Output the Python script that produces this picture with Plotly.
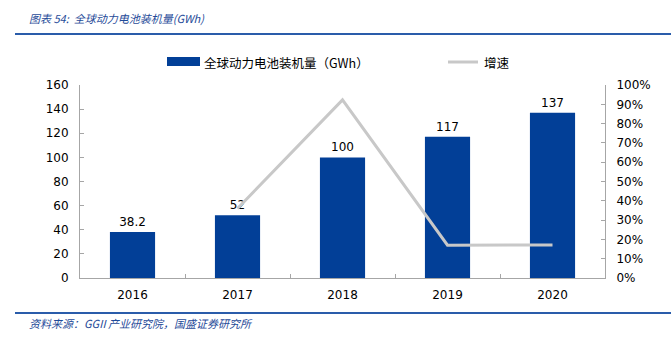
import plotly.graph_objects as go

years = ["2016", "2017", "2018", "2019", "2020"]
capacity = [38.2, 52, 100, 117, 137]
growth_years = ["2017", "2018", "2019", "2020"]
growth = [0.36, 0.923, 0.17, 0.171]
bar_labels = ["38.2", "52", "100", "117", "137"]

W, H = 671, 340
ML, MR, MT, MB = 80, 66, 85, 62
PW, PH = W - ML - MR, H - MT - MB

def px(x):
    return (x - ML) / PW

def py(y):
    return (H - MB - y) / PH

BAR = "#023f97"
LINE = "#c8c8c8"
AX = "#a6a6a6"
BLUE_T = "#1f4b99"
CJK = "Noto Sans CJK SC"
NUMF = "DejaVu Sans"

fig = go.Figure()
fig.add_trace(go.Bar(
    x=years, y=capacity, marker=dict(color=BAR, line=dict(width=0)),
    width=0.43, text=bar_labels, textposition="outside",
    textfont=dict(family=NUMF, size=12, color="#000000"),
    cliponaxis=False, showlegend=False, yaxis="y"))
fig.add_trace(go.Scatter(
    x=growth_years, y=growth, mode="lines",
    line=dict(color=LINE, width=3), showlegend=False, yaxis="y2"))

shapes = [
    dict(type="line", xref="paper", yref="paper", x0=px(15), x1=px(671), y0=py(34), y1=py(34),
         line=dict(color="#2a5caa", width=2)),
    dict(type="line", xref="paper", yref="paper", x0=px(15), x1=px(671), y0=py(313), y1=py(313),
         line=dict(color="#2a5caa", width=2)),
    dict(type="rect", xref="paper", yref="paper", x0=px(167), x1=px(200), y0=py(66), y1=py(57),
         fillcolor=BAR, line=dict(width=0)),
    dict(type="line", xref="paper", yref="paper", x0=px(448), x1=px(478), y0=py(62), y1=py(62),
         line=dict(color=LINE, width=3)),
]

annotations = [
    dict(text="<i>图表 54:  全球动力电池装机量(GWh)</i>", xref="paper", yref="paper",
         x=px(27), y=py(18), xanchor="left", yanchor="middle", showarrow=False,
         font=dict(family=CJK, size=11, color=BLUE_T)),
    dict(text="<i>资料来源：GGII 产业研究院，国盛证券研究所</i>", xref="paper", yref="paper",
         x=px(27), y=py(323), xanchor="left", yanchor="middle", showarrow=False,
         font=dict(family=CJK, size=11, color=BLUE_T)),
    dict(text="全球动力电池装机量（GWh）", xref="paper", yref="paper",
         x=px(202), y=py(62), xanchor="left", yanchor="middle", showarrow=False,
         font=dict(family=CJK, size=12.5, color="#000000")),
    dict(text="增速", xref="paper", yref="paper",
         x=px(482), y=py(62), xanchor="left", yanchor="middle", showarrow=False,
         font=dict(family=CJK, size=12.5, color="#000000")),
]

fig.update_layout(
    width=W, height=H,
    margin=dict(l=ML, r=MR, t=MT, b=MB, pad=0),
    paper_bgcolor="white", plot_bgcolor="white",
    showlegend=False,
    bargap=0.57,
    shapes=shapes, annotations=annotations,
    xaxis=dict(type="category", showline=True, linecolor=AX, linewidth=1,
               ticks="inside", tickson="boundaries", ticklen=4, tickcolor=AX,
               showgrid=False, tickfont=dict(family=NUMF, size=12, color="#000000"),
               ticklabelstandoff=6),
    yaxis=dict(range=[0, 160], dtick=20, showline=True, linecolor=AX, linewidth=1,
               ticks="inside", ticklen=4, tickcolor=AX, showgrid=False, zeroline=False,
               tickfont=dict(family=NUMF, size=12, color="#000000"), ticklabelstandoff=8),
    yaxis2=dict(range=[0, 1], dtick=0.1, tickformat=".0%", overlaying="y", side="right",
                showline=True, linecolor=AX, linewidth=1, ticks="inside", ticklen=4,
                tickcolor=AX, showgrid=False, zeroline=False,
                tickfont=dict(family=NUMF, size=12, color="#000000"), ticklabelstandoff=8),
)

fig.write_html("out.html")
